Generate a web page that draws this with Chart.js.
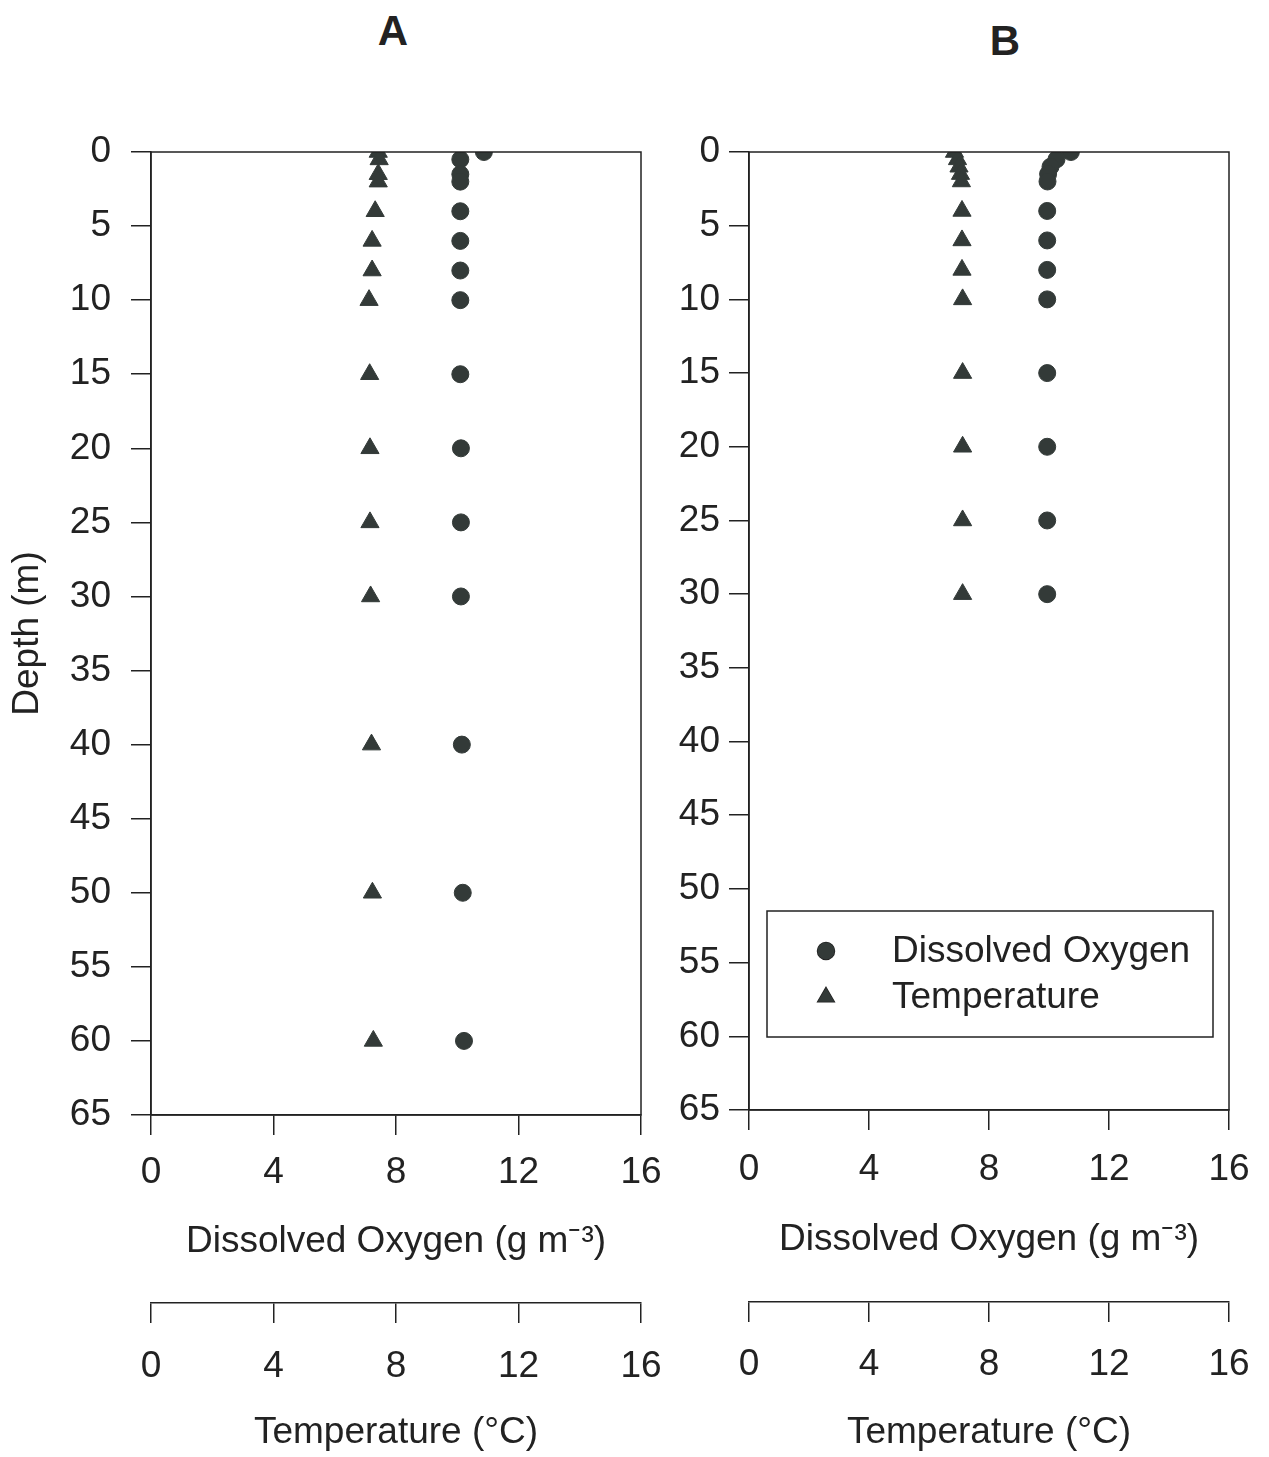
<!DOCTYPE html>
<html><head><meta charset="utf-8">
<script src="https://cdn.jsdelivr.net/npm/chart.js@4/dist/chart.umd.min.js"></script>
<style>
html,body{margin:0;padding:0;background:#fff;width:1269px;height:1457px;overflow:hidden;}
.panel{position:absolute;top:0;height:1457px;}
#wrapA{left:0;width:680px;}
#wrapB{left:620px;width:649px;}
.letter{position:absolute;width:100px;text-align:center;font:bold 42px "Liberation Sans",Arial,sans-serif;line-height:1;color:#222;}
</style></head><body>
<div class="letter" style="left:343px;top:10px;">A</div>
<div class="letter" style="left:955px;top:20px;">B</div>
<div class="panel" id="wrapA"><canvas id="chartA" width="680" height="1457"></canvas></div>
<div class="panel" id="wrapB"><canvas id="chartB" width="649" height="1457"></canvas></div>
<script>
// ---- data ----
const depthA  = [0, 0.5, 1.5, 2, 4, 6, 8, 10, 15, 20, 25, 30, 40, 50, 60];
const oxygenA = [10.87, 10.1, 10.1, 10.1, 10.1, 10.1, 10.1, 10.1, 10.1, 10.12, 10.12, 10.12, 10.15, 10.18, 10.22];
const tempA   = [7.42, 7.45, 7.42, 7.42, 7.32, 7.22, 7.22, 7.12, 7.14, 7.15, 7.15, 7.17, 7.2, 7.23, 7.26];

const depthB  = [0, 0.5, 1, 1.5, 2, 4, 6, 8, 10, 15, 20, 25, 30];
const oxygenB = [10.73, 10.25, 10.05, 9.97, 9.95, 9.94, 9.94, 9.94, 9.94, 9.94, 9.94, 9.94, 9.94];
const tempB   = [6.85, 6.95, 7.0, 7.05, 7.08, 7.1, 7.1, 7.1, 7.12, 7.12, 7.12, 7.12, 7.12];

const xTickValues = [0, 4, 8, 12, 16];
const depthTickStep = 5;
const seriesLabels = ['Dissolved Oxygen', 'Temperature'];
const axisTitles = {depth: 'Depth (m)', oxygen: 'Dissolved Oxygen (g m\u207B\u00B3)', temp: 'Temperature (\u00B0C)'};

// ---- styling ----
const FONT = '"Liberation Sans", Arial, Helvetica, sans-serif';
const INK = '#222222';
const MARK = '#333a38';
const FS = 37;

function pts(xs, ys){ return xs.map((x,i)=>({x:x, y:ys[i]})); }

const framePlugin = {
  id:'frame',
  afterDraw(chart){
    const {ctx, chartArea:a} = chart;
    ctx.save();
    ctx.strokeStyle = INK; ctx.lineWidth = 1.5;
    ctx.strokeRect(a.left, a.top, a.right-a.left, a.bottom-a.top);
    ctx.restore();
  }
};

const legendPlugin = {
  id:'boxLegend',
  afterDraw(chart, args, opts){
    if(!opts.show) return;
    const {ctx, chartArea:a} = chart;
    const bx = a.left + 18, by = 911, bw = 446, bh = 126;
    ctx.save();
    ctx.fillStyle = '#fff';
    ctx.fillRect(bx, by, bw, bh);
    ctx.strokeStyle = INK; ctx.lineWidth = 1.5;
    ctx.strokeRect(bx, by, bw, bh);
    ctx.font = FS + 'px ' + FONT;
    ctx.fillStyle = INK;
    ctx.textBaseline = 'middle';
    ctx.textAlign = 'left';
    chart.data.datasets.forEach((ds, i) => {
      const cy = by + 40 + i*46;
      const mx = bx + 59;
      Chart.helpers.drawPoint(ctx, {pointStyle: ds.pointStyle, radius: ds.pointStyle==='triangle'?9.5:8.5, borderWidth:1}, mx, cy);
      ctx.fillStyle = MARK; ctx.fill();
      ctx.fillStyle = INK;
      ctx.fillText(ds.label, bx + 125, cy + 1);
    });
    ctx.restore();
  }
};

function makeChart(id, depths, oxy, temp, g){
  const tickFont = {family: FONT, size: FS};
  const gridStyle = {drawOnChartArea:false, drawTicks:true, tickLength:20, color:INK, lineWidth:1.5};
  const border = {display:true, color:INK, width:1.5};
  return new Chart(document.getElementById(id), {
    type:'scatter',
    data:{datasets:[
      {label:seriesLabels[0], data:pts(oxy, depths), xAxisID:'x', yAxisID:'y',
       pointStyle:'circle', pointRadius:8.5, pointBackgroundColor:MARK, pointBorderColor:MARK, pointBorderWidth:1},
      {label:seriesLabels[1], data:pts(temp, depths), xAxisID:'x2', yAxisID:'y',
       pointStyle:'triangle', pointRadius:10.5, pointBackgroundColor:MARK, pointBorderColor:MARK, pointBorderWidth:1}
    ]},
    options:{
      responsive:false, animation:false, devicePixelRatio:1,
      layout:{padding:{top:g.top, left:0, right:g.right, bottom:0}},
      plugins:{legend:{display:false}, tooltip:{enabled:false}, boxLegend:{show:g.legend}},
      scales:{
        y:{type:'linear', position:'left', reverse:true, min:0, max:65,
          ticks:{stepSize:depthTickStep, font:tickFont, color:INK, padding:g.yPad},
          grid:gridStyle, border:border,
          title:{display:g.yTitle, text:axisTitles.depth, font:tickFont, color:INK, padding:{top:6, bottom:0}},
          afterFit(s){ s.width = g.yWidth; s.paddingTop = 0; s.paddingBottom = 0; }
        },
        x:{type:'linear', position:'bottom', weight:0, min:0, max:16,
          afterBuildTicks(s){ s.ticks = xTickValues.map(v=>({value:v})); },
          ticks:{font:tickFont, color:INK, padding:g.xPad, maxRotation:0},
          grid:gridStyle, border:border,
          title:{display:true, text:axisTitles.oxygen, font:tickFont, color:INK, padding:{top:0, bottom:g.xTitlePad}},
          afterFit(s){ s.height = g.xHeight; s.paddingLeft = 0; s.paddingRight = 0; }
        },
        x2:{type:'linear', position:'bottom', weight:1, min:0, max:16,
          afterBuildTicks(s){ s.ticks = xTickValues.map(v=>({value:v})); },
          ticks:{font:tickFont, color:INK, padding:g.tPad, maxRotation:0},
          grid:gridStyle, border:border,
          title:{display:true, text:axisTitles.temp, font:tickFont, color:INK, padding:{top:0, bottom:g.tTitlePad}},
          afterFit(s){ s.height = g.tHeight; s.paddingLeft = 0; s.paddingRight = 0; }
        }
      }
    },
    plugins:[framePlugin, legendPlugin]
  });
}

makeChart('chartA', depthA, oxygenA, tempA, {
  top:152, right:39, yWidth:151, yPad:20, yTitle:true, legend:false,
  xHeight:188, xPad:16, xTitlePad:39, tHeight:154, tPad:22, tTitlePad:2
});
makeChart('chartB', depthB, oxygenB, tempB, {
  top:152, right:40, yWidth:129, yPad:9, yTitle:false, legend:true,
  xHeight:192, xPad:18, xTitlePad:40, tHeight:155, tPad:21, tTitlePad:2
});
</script>
</body></html>
